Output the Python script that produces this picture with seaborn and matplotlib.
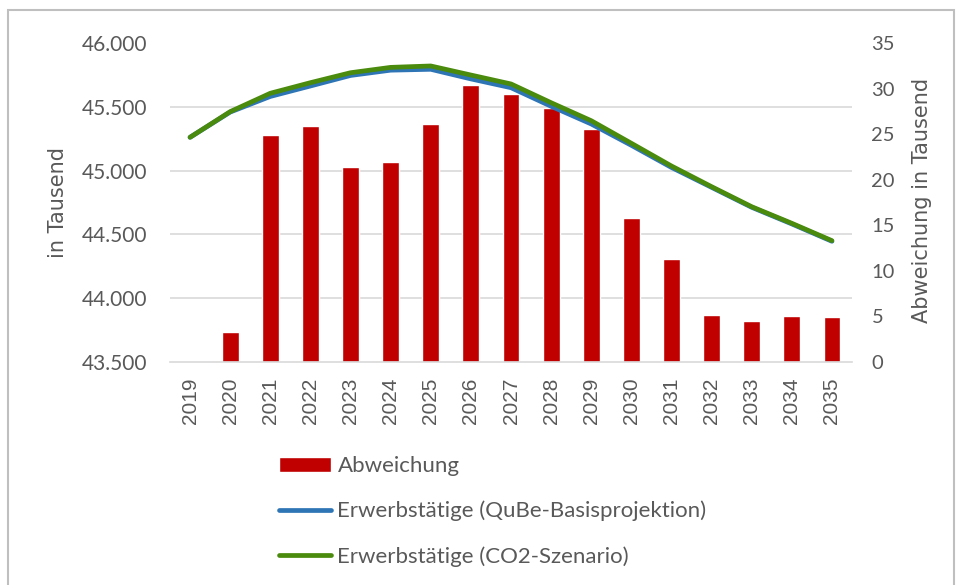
import numpy as np
import pandas as pd
import matplotlib
matplotlib.use("Agg")
import matplotlib.pyplot as plt
import matplotlib.ticker as mticker
from matplotlib.patches import Rectangle
import seaborn as sns

# --- data ---
years = [2019, 2020, 2021, 2022, 2023, 2024, 2025, 2026, 2027,
         2028, 2029, 2030, 2031, 2032, 2033, 2034, 2035]
abweichung = [0.0, 3.3, 24.9, 25.9, 21.4, 21.9, 26.1, 30.4, 29.4,
              27.9, 25.6, 15.8, 11.3, 5.2, 4.5, 5.0, 4.9]
co2_szenario = [45261, 45462, 45606, 45689, 45767, 45809, 45820, 45749, 45679,
                45532, 45391, 45214, 45036, 44874, 44717, 44587, 44451]
basis = [c - a for c, a in zip(co2_szenario, abweichung)]

left_ticks = [43500, 44000, 44500, 45000, 45500, 46000]
right_ticks = [0, 5, 10, 15, 20, 25, 30, 35]

df = pd.DataFrame({"Jahr": years, "Abweichung": abweichung,
                   "Basis": basis, "CO2": co2_szenario})

sns.set_style("white")
plt.rcParams["font.family"] = ["Lato", "DejaVu Sans"]

GREY_TXT = "#595959"
GRID = "#d9d9d9"
RED = "#c00000"
BLUE = "#2e75b6"
GREEN = "#4a8a0c"

fig = plt.figure(figsize=(9.57, 5.85), dpi=100)
ax = fig.add_axes([170 / 957, 1 - 362 / 585, 682 / 957, 319 / 585])

# bars (right scale) on the lower axes so the lines sit on top
sns.barplot(data=df, x="Jahr", y="Abweichung", native_scale=True, color=RED,
            saturation=1, width=0.42, ax=ax, label="Abweichung")
ax.set_ylim(0, 35)
ax.set_xlim(years[0] - 0.5, years[-1] + 0.5)
ax.set_yticks(right_ticks)
# gridlines matching the left scale, drawn behind the bars
ax.set_yticks(np.linspace(0, 35, len(left_ticks)), minor=True)
ax.grid(which="minor", axis="y", color=GRID, linewidth=1.2)
ax.grid(which="major", visible=False)
ax.set_axisbelow(True)

ax2 = ax.twinx()
sns.lineplot(data=df, x="Jahr", y="Basis", color=BLUE, linewidth=3.4, ax=ax2,
             label="Erwerbstätige (QuBe-Basisprojektion)")
sns.lineplot(data=df, x="Jahr", y="CO2", color=GREEN, linewidth=3.4, ax=ax2,
             label="Erwerbstätige (CO2-Szenario)")
ax2.set_ylim(left_ticks[0], left_ticks[-1])
ax2.set_yticks(left_ticks)
ax2.yaxis.set_major_formatter(
    mticker.FuncFormatter(lambda v, p: f"{v:,.0f}".replace(",", ".")))

# swap sides: bar scale right, line scale left
ax.yaxis.tick_right()
ax.yaxis.set_label_position("right")
ax2.yaxis.tick_left()
ax2.yaxis.set_label_position("left")

ax.set_xticks(years)
ax.set_xticklabels([str(y) for y in years], rotation=90,
                   fontfamily="Liberation Sans", fontsize=15, color=GREY_TXT)

for a in (ax, ax2):
    for s in a.spines.values():
        s.set_visible(False)
    a.tick_params(length=0, which="both")
ax.spines["bottom"].set_visible(True)
ax.spines["bottom"].set_color(GRID)
ax.spines["bottom"].set_linewidth(1.2)

ax.tick_params(axis="y", labelsize=14.5, labelcolor=GREY_TXT, pad=14)
ax.tick_params(axis="x", pad=11)
ax2.tick_params(axis="y", labelsize=15, labelcolor=GREY_TXT, pad=16)

ax.set_xlabel("")
ax.set_ylabel("Abweichung in Tausend", fontfamily="DejaVu Sans",
              fontsize=15, color=GREY_TXT)
ax.yaxis.set_label_coords(1.088, 0.505)
ax2.set_xlabel("")
ax2.set_ylabel("in Tausend", fontfamily="DejaVu Sans",
               fontsize=15, color=GREY_TXT)
ax2.yaxis.set_label_coords(-0.15, 0.5)

# legend below the plot
h1, l1 = ax.get_legend_handles_labels()
h2, l2 = ax2.get_legend_handles_labels()
if ax2.get_legend():
    ax2.get_legend().remove()
if ax.get_legend():
    ax.get_legend().remove()
fig.legend(h1 + h2, l1 + l2, loc="upper left",
           bbox_to_anchor=(279 / 957, 1 - 456 / 585), frameon=False,
           fontsize=16, labelcolor=GREY_TXT, handlelength=2.35,
           handleheight=0.68, handletextpad=0.28, labelspacing=1.12,
           borderpad=0, borderaxespad=0)

# outer chart frame
fig.patches.append(Rectangle((8 / 957, -0.01), 946 / 957, 1 - 10 / 585 + 0.01,
                             transform=fig.transFigure, fill=False,
                             edgecolor="#bfbfbf", linewidth=1.5))

fig.savefig("out.png", dpi=100)
